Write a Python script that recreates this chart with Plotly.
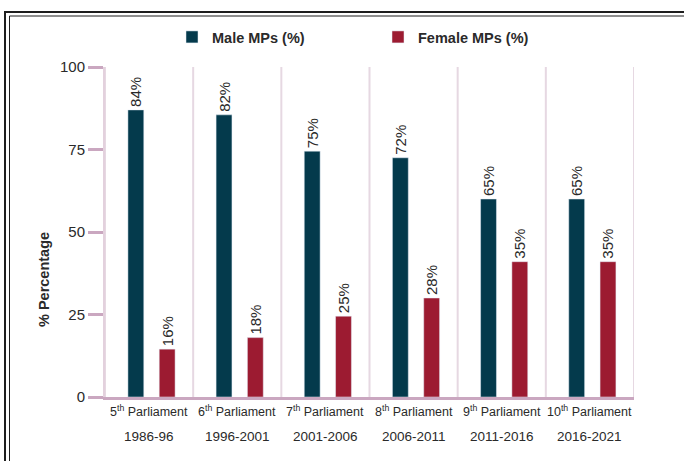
import plotly.graph_objects as go

parliaments = ["5<sup>th</sup> Parliament", "6<sup>th</sup> Parliament", "7<sup>th</sup> Parliament",
               "8<sup>th</sup> Parliament", "9<sup>th</sup> Parliament", "10<sup>th</sup> Parliament"]
periods = ["1986-96", "1996-2001", "2001-2006", "2006-2011", "2011-2016", "2016-2021"]
male_values = [87, 85.5, 74.5, 72.5, 60, 60]
female_values = [14.5, 18, 24.5, 30, 41, 41]
male_labels = ["84%", "82%", "75%", "72%", "65%", "65%"]
female_labels = ["16%", "18%", "25%", "28%", "35%", "35%"]
y_ticks = [0, 25, 50, 75, 100]

MALE = "#043a4c"
FEMALE = "#9c1b31"
FONT = "Liberation Sans, Arial, sans-serif"
TXT = "#2a2a2a"

W, H = 684, 461
L, R, T, B = 105, 50, 67, 64
PW, PH = W - L - R, H - T - B

def px(x):
    return (x - L) / PW

def py(y):
    return (H - B - y) / PH

idx = list(range(len(parliaments)))

fig = go.Figure()
fig.add_trace(go.Bar(
    x=idx, y=male_values, name="Male MPs (%)", marker_color=MALE,
    width=0.18, offset=-0.24, text=male_labels, textposition="outside",
    textangle=-90, constraintext="none", cliponaxis=False,
    textfont=dict(size=15, color=TXT, family=FONT),
))
fig.add_trace(go.Bar(
    x=idx, y=female_values, name="Female MPs (%)", marker_color=FEMALE,
    width=0.18, offset=0.115, text=female_labels, textposition="outside",
    textangle=-90, constraintext="none", cliponaxis=False,
    textfont=dict(size=15, color=TXT, family=FONT),
))

shapes = []
# category separators (first one continues the y axis below zero)
for b in [i - 0.5 for i in range(len(parliaments) + 1)]:
    shapes.append(dict(type="line", xref="x", yref="y", x0=b, x1=b, y0=100, y1=-6,
                       line=dict(color="#e6d8e2", width=2), layer="below"))
# outer double frame
shapes.append(dict(type="path", xref="paper", yref="paper",
                   path=f"M {px(5)},{py(470)} L {px(5)},{py(12)} L {px(700)},{py(12)}",
                   line=dict(color="#1e1e1e", width=2)))
shapes.append(dict(type="path", xref="paper", yref="paper",
                   path=f"M {px(9.5)},{py(470)} L {px(9.5)},{py(16)} L {px(700)},{py(16)}",
                   line=dict(color="#1e1e1e", width=1)))

annotations = []
for i, (p, per) in enumerate(zip(parliaments, periods)):
    annotations.append(dict(x=i, y=py(411), xref="x", yref="paper", text=p, showarrow=False,
                            font=dict(size=12.5, color=TXT, family=FONT),
                            xanchor="center", yanchor="middle"))
    annotations.append(dict(x=i, y=py(437), xref="x", yref="paper", text=per, showarrow=False,
                            font=dict(size=13.5, color=TXT, family=FONT),
                            xanchor="center", yanchor="middle"))
annotations.append(dict(x=px(44), y=py(280), xref="paper", yref="paper", text="<b>% Percentage</b>",
                        textangle=-90, showarrow=False, xanchor="center", yanchor="middle",
                        font=dict(size=14.5, color=TXT, family=FONT)))

fig.update_layout(
    width=W, height=H, margin=dict(l=L, r=R, t=T, b=B, autoexpand=False),
    paper_bgcolor="white", plot_bgcolor="white",
    showlegend=True,
    legend=dict(orientation="h", x=px(172), y=py(37), xanchor="left", yanchor="middle",
                font=dict(size=14.5, color=TXT, family=FONT, weight="bold"),
                entrywidth=161, entrywidthmode="pixels", itemwidth=30,
                bgcolor="rgba(0,0,0,0)"),
    xaxis=dict(range=[-0.5, 5.5], showticklabels=False, ticks="", showgrid=False,
               showline=True, linecolor="#caa7c0", linewidth=3, zeroline=False, fixedrange=True),
    yaxis=dict(range=[0, 100], tickvals=y_ticks, ticks="outside", ticklen=15, tickwidth=3,
               tickcolor="#caa7c0", showgrid=False, zeroline=False, showline=True,
               linecolor="#e3d1dd", linewidth=2,
               tickfont=dict(size=15, color=TXT, family=FONT)),
    shapes=shapes, annotations=annotations,
)

fig.write_html("out.html", config={"displayModeBar": False},
               post_script="document.body.style.margin='0';document.body.style.overflow='hidden';")
